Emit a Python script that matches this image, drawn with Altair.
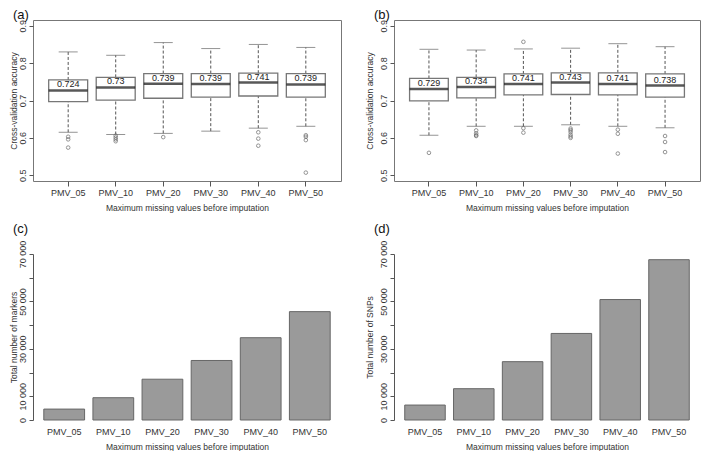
import altair as alt
import pandas as pd

cats = ["PMV_05", "PMV_10", "PMV_20", "PMV_30", "PMV_40", "PMV_50"]

# Panel (a) box statistics
a_lo = [0.615, 0.609, 0.612, 0.618, 0.626, 0.631]
a_q1 = [0.697, 0.701, 0.706, 0.709, 0.712, 0.709]
a_med = [0.727, 0.735, 0.745, 0.744, 0.748, 0.743]
a_q3 = [0.755, 0.762, 0.772, 0.772, 0.773, 0.772]
a_hi = [0.830, 0.821, 0.855, 0.839, 0.850, 0.842]
a_lab = ["0.724", "0.73", "0.739", "0.739", "0.741", "0.739"]
a_out_cat = ["PMV_05", "PMV_05", "PMV_05", "PMV_10", "PMV_10", "PMV_10", "PMV_10",
             "PMV_20", "PMV_40", "PMV_40", "PMV_40", "PMV_50", "PMV_50", "PMV_50", "PMV_50"]
a_out_val = [0.603, 0.596, 0.574, 0.606, 0.601, 0.596, 0.591,
             0.602, 0.615, 0.598, 0.579, 0.607, 0.603, 0.594, 0.507]

# Panel (b) box statistics
b_lo = [0.607, 0.631, 0.631, 0.635, 0.631, 0.627]
b_q1 = [0.699, 0.707, 0.715, 0.716, 0.715, 0.709]
b_med = [0.731, 0.736, 0.744, 0.748, 0.744, 0.740]
b_q3 = [0.759, 0.762, 0.771, 0.774, 0.774, 0.771]
b_hi = [0.837, 0.835, 0.838, 0.840, 0.852, 0.844]
b_lab = ["0.729", "0.734", "0.741", "0.743", "0.741", "0.738"]
b_out_cat = ["PMV_05", "PMV_10", "PMV_10", "PMV_10", "PMV_10",
             "PMV_20", "PMV_20", "PMV_20",
             "PMV_30", "PMV_30", "PMV_30", "PMV_30", "PMV_30", "PMV_30",
             "PMV_40", "PMV_40", "PMV_40", "PMV_50", "PMV_50", "PMV_50"]
b_out_val = [0.560, 0.620, 0.612, 0.607, 0.605,
             0.857, 0.626, 0.614,
             0.625, 0.621, 0.616, 0.609, 0.604, 0.600,
             0.622, 0.611, 0.558, 0.605, 0.589, 0.562]

# Panels (c), (d) bar values
c_counts = [4600, 9400, 17200, 25100, 34700, 45700]
d_counts = [6300, 13200, 24600, 36500, 50800, 67600]

FONT = "Liberation Sans"
XTITLE = "Maximum missing values before imputation"
TOP_H = 161
BOT_H = 166


def tag_layer(tag, dx, dy):
    return alt.Chart(pd.DataFrame({"t": [tag]})).mark_text(
        font=FONT, fontSize=13, color="#111", align="left", baseline="alphabetic"
    ).encode(text="t:N", x=alt.value(dx), y=alt.value(dy))


def box_panel(lo, q1, med, q3, hi, lab, oc, ov, ytitle, tag, w, tpad):
    df = pd.DataFrame({"cat": cats, "lo": lo, "q1": q1, "med": med,
                       "q3": q3, "hi": hi, "lab": lab})
    od = pd.DataFrame({"cat": oc, "v": ov})
    step = w / (6 + 2 * 0.24)
    x = alt.X("cat:N", sort=cats,
              scale=alt.Scale(domain=cats, paddingInner=0, paddingOuter=0.24),
              axis=alt.Axis(title=XTITLE, labelAngle=0, domain=False, ticks=True,
                            tickSize=5, tickColor="#555", labelPadding=2,
                            titlePadding=6))
    ys = alt.Scale(domain=[0.4846, 0.9154], nice=False, zero=False)
    ya = alt.Axis(title=ytitle, values=[0.5, 0.6, 0.7, 0.8, 0.9], format=".1f",
                  labelAngle=-90, domain=False, tickSize=4, tickColor="#555",
                  labelPadding=2, minExtent=15, maxExtent=15, titlePadding=tpad,
                  grid=False)

    def Y(f):
        return alt.Y(f, scale=ys, axis=ya)

    base = alt.Chart(df).encode(x=x)
    wu = base.mark_rule(strokeDash=[3, 2], color="#555", strokeWidth=1).encode(
        y=Y("q3:Q"), y2="hi:Q")
    wl = base.mark_rule(strokeDash=[3, 2], color="#555", strokeWidth=1).encode(
        y=Y("lo:Q"), y2="q1:Q")
    ch = base.mark_tick(size=step * 0.4, thickness=1, color="#666").encode(y=Y("hi:Q"))
    cl = base.mark_tick(size=step * 0.4, thickness=1, color="#666").encode(y=Y("lo:Q"))
    box = base.mark_bar(size=step * 0.82, fill="white", stroke="#777",
                        strokeWidth=1.3).encode(y=Y("q1:Q"), y2="q3:Q")
    md = base.mark_tick(size=step * 0.82, thickness=2.5, color="#111").encode(y=Y("med:Q"))
    tx = base.mark_text(font=FONT, fontSize=9, color="#222", dy=-6,
                        baseline="middle").encode(y=Y("med:Q"), text="lab:N")
    pts = alt.Chart(od).mark_point(shape="circle", size=13, filled=False,
                                   color="#666", strokeWidth=1).encode(
        x=x, y=Y("v:Q"))
    t = tag_layer(tag, -20, -1.5)
    return alt.layer(wu, wl, ch, cl, box, md, tx, pts, t).properties(
        width=w, height=TOP_H,
        view=alt.ViewBackground(stroke="#777", strokeWidth=1))


def bar_panel(vals, ytitle, tag, w, tpad):
    df = pd.DataFrame({"cat": cats, "n": vals})
    x = alt.X("cat:N", sort=cats,
              scale=alt.Scale(domain=cats, paddingInner=0.17, paddingOuter=0.22),
              axis=alt.Axis(title=XTITLE, labelAngle=0, domain=False, ticks=False,
                            labelPadding=7, titlePadding=6))
    y = alt.Y("n:Q", scale=alt.Scale(domain=[0, 70000], nice=False),
              axis=alt.Axis(title=ytitle, values=list(range(0, 70001, 10000)),
                            labelExpr="(datum.value == 0 || (datum.value / 10000) % 2 == 1) ? replace(format(datum.value, ','), ',', ' ') : ''",
                            labelAngle=-90, domain=True, domainColor="#555",
                            tickSize=4, tickColor="#555", labelPadding=2,
                            minExtent=15, maxExtent=15, titlePadding=tpad, grid=False))
    bars = alt.Chart(df).mark_bar(fill="#9a9a9a", stroke="#666", strokeWidth=1).encode(
        x=x, y=y)
    t = tag_layer(tag, -20, -21)
    return alt.layer(bars, t).properties(width=w, height=BOT_H)


pa = box_panel(a_lo, a_q1, a_med, a_q3, a_hi, a_lab, a_out_cat, a_out_val,
               "Cross-validation accuracy", "(a)", 308, 0)
pb = box_panel(b_lo, b_q1, b_med, b_q3, b_hi, b_lab, b_out_cat, b_out_val,
               "Cross-validation accuracy", "(b)", 306, 5)
pc = bar_panel(c_counts, "Total number of markers", "(c)", 308, 0)
pd_ = bar_panel(d_counts, "Total number of SNPs", "(d)", 306, 5)

chart = alt.vconcat(
    alt.hconcat(pa, pb, spacing=22),
    alt.hconcat(pc, pd_, spacing=22),
    spacing=10,
).properties(padding=0).configure(font=FONT).configure_view(
    stroke="transparent"
).configure_axis(
    labelFont=FONT, titleFont=FONT, labelFontSize=9, titleFontSize=8.5,
    labelColor="#333", titleColor="#333", titleFontWeight="normal"
)

chart.save("out.html", embed_options={"renderer": "svg", "actions": False})
